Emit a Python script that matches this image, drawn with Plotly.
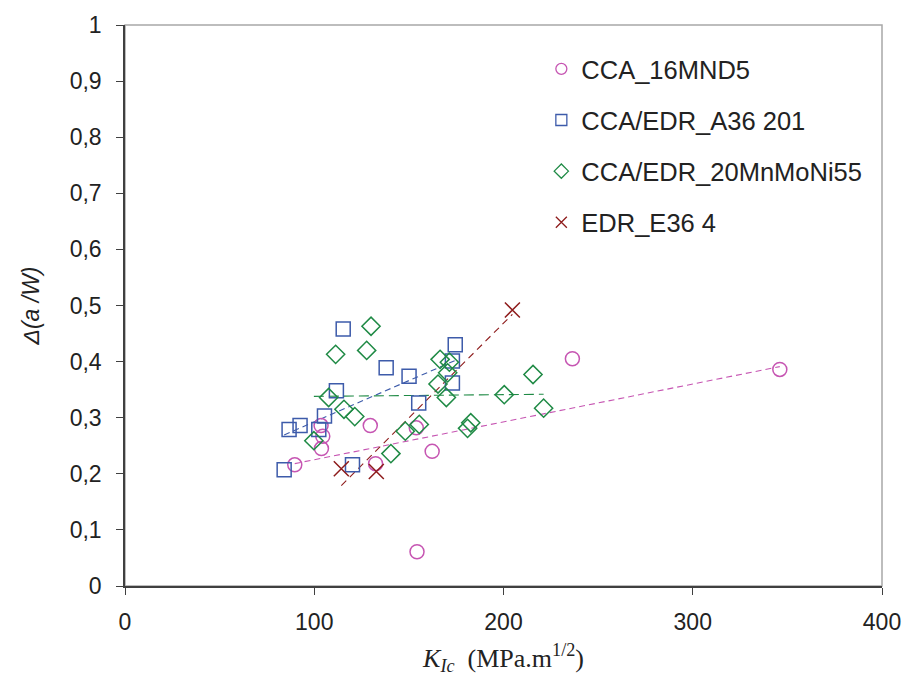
import numpy as np
import plotly.graph_objects as go

# ---- data ----
cca_16mnd5_x = [89.7, 103.6, 104.5, 103.8, 129.6, 132.4, 153.9, 162.3, 154.3, 236.4, 346.0]
cca_16mnd5_y = [0.216, 0.286, 0.267, 0.245, 0.286, 0.218, 0.282, 0.240, 0.061, 0.405, 0.386]

a36_x = [115.3, 138.0, 150.1, 174.5, 173.0, 173.0, 155.2, 111.7, 105.4, 102.4, 92.5, 86.7, 84.1, 120.2]
a36_y = [0.458, 0.389, 0.374, 0.430, 0.401, 0.362, 0.326, 0.348, 0.303, 0.279, 0.286, 0.279, 0.207, 0.216]

mnmoni_x = [130.0, 111.3, 127.7, 166.5, 171.4, 170.5, 165.4, 169.8, 107.6, 115.7,
            121.4, 99.8, 140.5, 148.1, 155.5, 182.7, 181.0, 200.4, 215.6, 221.2]
mnmoni_y = [0.463, 0.413, 0.420, 0.404, 0.399, 0.380, 0.360, 0.336, 0.336, 0.315,
            0.302, 0.259, 0.236, 0.276, 0.288, 0.291, 0.281, 0.341, 0.377, 0.317]

e36_x = [204.7, 114.3, 132.8]
e36_y = [0.492, 0.209, 0.204]

names = ["CCA_16MND5", "CCA/EDR_A36 201", "CCA/EDR_20MnMoNi55", "EDR_E36 4"]
x_ticks = [0, 100, 200, 300, 400]
y_ticks = [0, 0.1, 0.2, 0.3, 0.4, 0.5, 0.6, 0.7, 0.8, 0.9, 1]
y_ticktext = ["0", "0,1", "0,2", "0,3", "0,4", "0,5", "0,6", "0,7", "0,8", "0,9", "1"]

series = [
    (cca_16mnd5_x, cca_16mnd5_y, "circle-open", 14, "#C655B2", "6px,4px"),
    (a36_x, a36_y, "square-open", 14, "#3D5BAA", "6px,4px"),
    (mnmoni_x, mnmoni_y, "diamond-open", 14, "#1F8A45", "10px,5px"),
    (e36_x, e36_y, "x-thin-open", 15, "#8E1C1C", "7px,5px"),
]

fig = go.Figure()
# linear trend lines
for (xs, ys, sym, size, col, dash), name in zip(series, names):
    xa = np.array(xs)
    ya = np.array(ys)
    k, b = np.polyfit(xa, ya, 1)
    lx = np.array([xa.min(), xa.max()])
    fig.add_trace(go.Scatter(
        x=lx, y=k * lx + b, mode="lines",
        line=dict(color=col, width=1.1, dash=dash),
        showlegend=False, hoverinfo="skip"))

# data points
for (xs, ys, sym, size, col, dash), name in zip(series, names):
    fig.add_trace(go.Scatter(
        x=xs, y=ys, mode="markers", name=name, showlegend=False,
        marker=dict(symbol=sym, size=size, color=col,
                    line=dict(color=col, width=1.5))))

# legend entries (smaller symbols, as in the reference)
for (xs, ys, sym, size, col, dash), name in zip(series, names):
    fig.add_trace(go.Scatter(
        x=[None], y=[None], mode="markers", name=name, legendgroup=name,
        marker=dict(symbol=sym, size=11, color=col,
                    line=dict(color=col, width=1.3))))

tick_font = dict(family="Liberation Sans, Arial, sans-serif", size=23, color="#222222")

fig.update_layout(
    width=913, height=680,
    margin=dict(l=124.5, r=25, t=19, b=93.5),
    paper_bgcolor="white", plot_bgcolor="white",
    showlegend=True,
    legend=dict(x=0.550, y=0.963, xanchor="left", yanchor="top",
                font=dict(family="Liberation Sans, Arial, sans-serif", size=25.5, color="#222222"),
                tracegroupgap=15, bgcolor="rgba(0,0,0,0)", itemwidth=30),
    shapes=[dict(type="rect", xref="paper", yref="paper", x0=0, x1=1, y0=0, y1=1,
                 line=dict(color="#a8a8a8", width=1.5), layer="below")],
)

fig.update_xaxes(
    range=[0, 400], tickvals=x_ticks, ticks="outside", ticklen=7, tickwidth=1.2,
    tickcolor="#404040", showline=True, linecolor="#404040", linewidth=1.5,
    showgrid=False, zeroline=False, tickfont=tick_font, ticklabelstandoff=8,
    title=dict(text="<i>K</i><sub><i>Ic</i></sub>\u00a0 (MPa.m<sup>1/2</sup>)",
               font=dict(family="Liberation Serif, Times New Roman, serif", size=26, color="#222222"),
               standoff=14),
)
fig.update_yaxes(
    range=[0, 1], tickvals=y_ticks, ticktext=y_ticktext, ticks="outside", ticklen=7, tickwidth=1.2,
    tickcolor="#404040", showline=True, linecolor="#404040", linewidth=1.5,
    showgrid=False, zeroline=False, tickfont=tick_font, ticklabelstandoff=10,
    title=dict(text="<i>Δ(a /W)</i>",
               font=dict(family="Liberation Sans, Arial, sans-serif", size=23, color="#222222"),
               standoff=24),
)

fig.write_html("out.html")
